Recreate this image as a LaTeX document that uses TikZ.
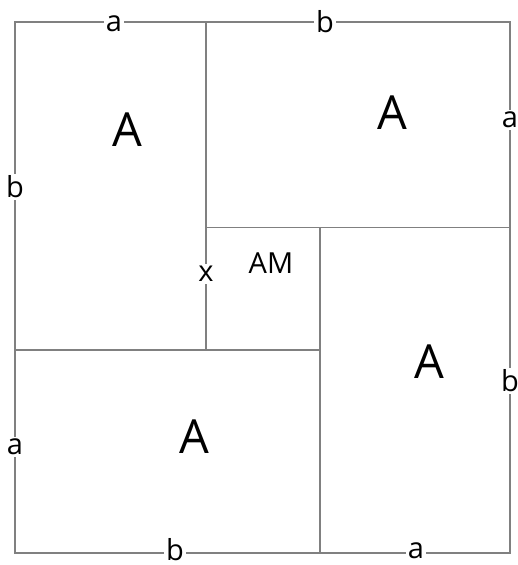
\documentclass[tikz,border=0pt]{standalone}
\usepackage{fontspec}
\setmainfont{Open Sans}
\usepackage{tikz}
\usetikzlibrary{positioning,calc}

\tikzset{
	edge/.style={draw=gray, line width=1.5pt},
	side/.style={fill=white, inner sep=2pt, font=\fontsize{29}{34}\selectfont},
	area/.style={inner sep=0pt, font=\fontsize{47}{56}\selectfont}
}

\begin{document}
\begin{tikzpicture}[x=1pt,y=-1pt]
		\useasboundingbox (0,0) rectangle (518,565);
		
		% outer square
		\coordinate (tl) at (15,22);
		\coordinate (br) at (510,553);
		\draw[edge] (tl) rectangle (br);
		
		% inner cuts
		\draw[edge] (206,22) -- (206,350);
		\draw[edge] (206,227.5) -- (510,227.5);
		\draw[edge] (320,227.5) -- (320,553);
		\draw[edge] (15,350) -- (320,350);
		
		% side lengths
		\node[side] (topa) at (114,24) {a};
		\node[side] (topb) at (325,22) {b};
		\node[side] (righta) at (510,120) {a};
		\node[side] (rightb) at (510,381) {b};
		\node[side] (bota) at (416,551) {a};
		\node[side] (botb) at (175,550) {b};
		\node[side] (lefta) at (15,447) {a};
		\node[side] (leftb) at (15,187) {b};
		\node[side] (xlen) at (206,274) {x};
		
		% areas
		\node[area] (areaTL) at (127,130) {A};
		\node[area] (areaTR) at (392,113) {A};
		\node[area] (areaBR) at (429,362) {A};
		\node[area] (areaBL) at (194,437) {A};
		\node[side, fill=none] (mid) at (271,263) {AM};
\end{tikzpicture}
\end{document}
